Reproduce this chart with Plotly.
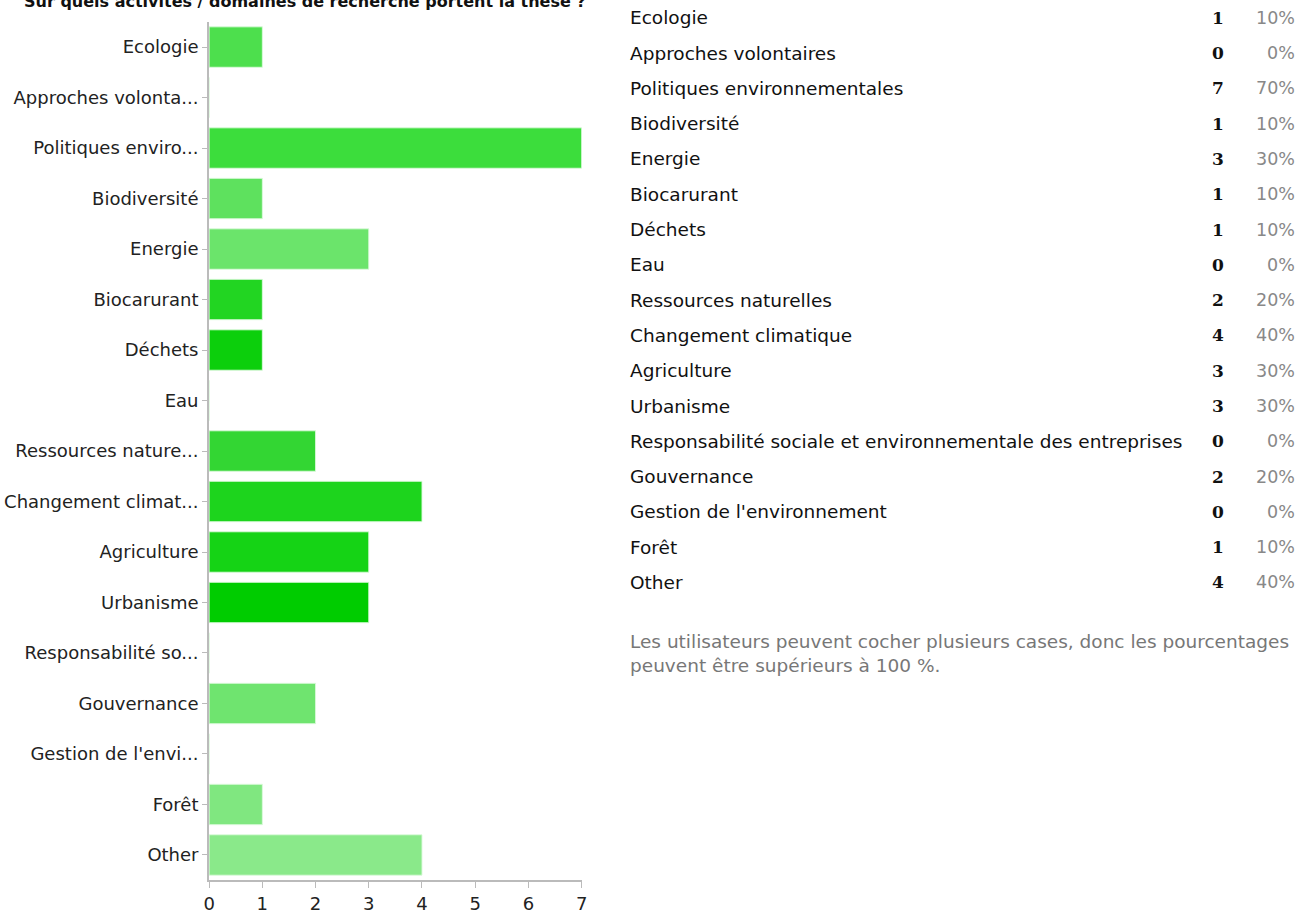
import plotly.graph_objects as go

# Survey answers: research domains covered by the thesis
categories = [
    "Ecologie", "Approches volontaires", "Politiques environnementales",
    "Biodiversité", "Energie", "Biocarurant", "Déchets", "Eau",
    "Ressources naturelles", "Changement climatique", "Agriculture",
    "Urbanisme", "Responsabilité sociale et environnementale des entreprises",
    "Gouvernance", "Gestion de l'environnement", "Forêt", "Other",
]
short_labels = [
    "Ecologie", "Approches volonta...", "Politiques enviro...",
    "Biodiversité", "Energie", "Biocarurant", "Déchets", "Eau",
    "Ressources nature...", "Changement climat...", "Agriculture",
    "Urbanisme", "Responsabilité so...", "Gouvernance",
    "Gestion de l'envi...", "Forêt", "Other",
]
counts = [1, 0, 7, 1, 3, 1, 1, 0, 2, 4, 3, 3, 0, 2, 0, 1, 4]
percents = ["10%", "0%", "70%", "10%", "30%", "10%", "10%", "0%", "20%",
            "40%", "30%", "30%", "0%", "20%", "0%", "10%", "40%"]
bar_colors = [
    "#4ddf4d", "#4ddf4d", "#3cdd3c", "#5ee15e", "#6be46b", "#22d522",
    "#0ccf0c", "#0ccf0c", "#33d633", "#1dd41d", "#15d315", "#00cc00",
    "#00cc00", "#6fe46f", "#77e577", "#80e780", "#8ae98a",
]
x_ticks = [0, 1, 2, 3, 4, 5, 6, 7]

title_text = "Sur quels activités / domaines de recherche portent la thèse ?"
note_text = ("Les utilisateurs peuvent cocher plusieurs cases, donc les pourcentages"
             "<br>peuvent être supérieurs à 100 %.")

W, H = 1301, 914

fig = go.Figure()
fig.add_trace(go.Bar(
    x=counts,
    y=categories,
    orientation="h",
    marker=dict(color=bar_colors, line=dict(color="rgba(220,250,220,0.9)", width=1)),
    hoverinfo="x+y",
))

label_font = dict(family="DejaVu Sans", size=18, color="#222222")

fig.update_layout(
    width=W, height=H,
    margin=dict(l=0, r=0, t=0, b=0),
    paper_bgcolor="white", plot_bgcolor="white",
    showlegend=False,
    bargap=0.2,
    xaxis=dict(
        domain=[205 / W, 581 / W],
        range=[0, 7],
        tickvals=x_ticks,
        ticks="outside", ticklen=6, tickcolor="#bbbbbb", tickwidth=1,
        showgrid=False, zeroline=False,
        showline=True, linecolor="#bbbbbb", linewidth=2,
        tickfont=label_font,
    ),
    yaxis=dict(
        domain=[1 - 888 / H, 1 - 22 / H],
        categoryorder="array", categoryarray=categories,
        tickvals=categories, ticktext=short_labels,
        autorange="reversed",
        ticks="outside", ticklen=5, tickcolor="#bbbbbb", tickwidth=1,
        showgrid=False, zeroline=False,
        showline=True, linecolor="#bbbbbb", linewidth=2,
        tickfont=label_font,
    ),
)

def py(px):
    return 1 - px / H

annotations = [dict(
    text="<b>" + title_text + "</b>", x=16 / W, y=py(2), xref="paper", yref="paper",
    xanchor="left", yanchor="middle", showarrow=False,
    font=dict(family="DejaVu Sans", size=16, color="#111111"),
)]

row_font = dict(family="DejaVu Sans", size=18.5, color="#111111")
for i, name in enumerate(categories):
    y = py(18 + i * 35.6)
    annotations.append(dict(text=name, x=628 / W, y=y, xref="paper", yref="paper",
                            xanchor="left", yanchor="middle", showarrow=False, font=row_font))
    annotations.append(dict(text="<b>" + str(counts[i]) + "</b>", x=1231 / W, y=y,
                            xref="paper", yref="paper", xanchor="right", yanchor="middle",
                            showarrow=False,
                            font=dict(family="DejaVu Serif", size=17, color="#111111")))
    annotations.append(dict(text=percents[i], x=1303 / W, y=y, xref="paper", yref="paper",
                            xanchor="right", yanchor="middle", showarrow=False,
                            font=dict(family="DejaVu Sans", size=17.5, color="#888888")))

annotations.append(dict(text=note_text, x=628 / W, y=py(635), xref="paper", yref="paper",
                        xanchor="left", yanchor="top", align="left", showarrow=False,
                        font=dict(family="DejaVu Sans", size=18.5, color="#777777")))

fig.update_layout(annotations=annotations)
fig.write_html("out.html")
